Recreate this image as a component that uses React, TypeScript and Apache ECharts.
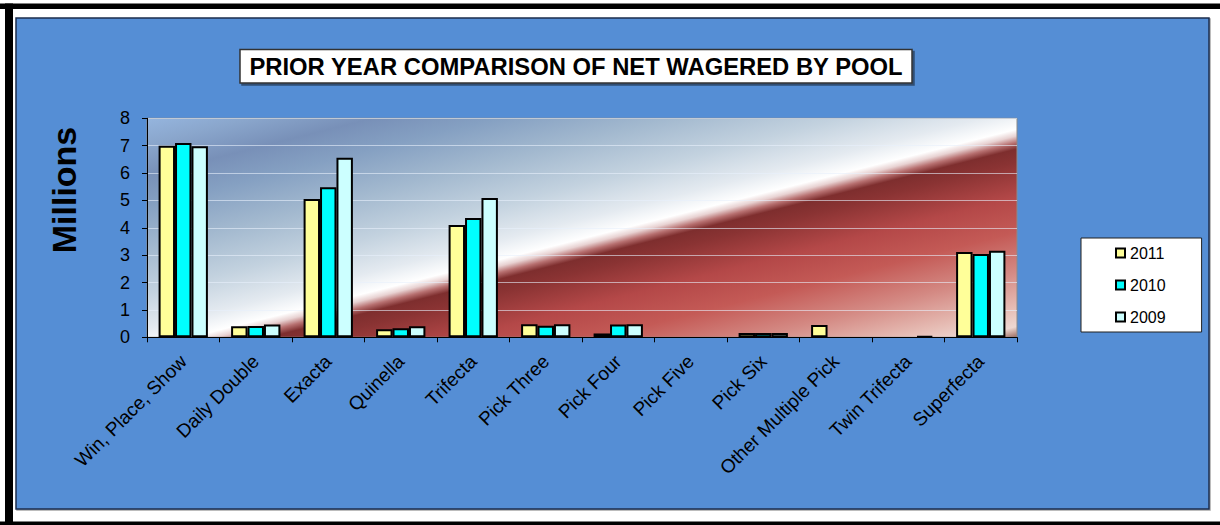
import React, { useEffect, useRef } from "react";
import * as echarts from "echarts";

const categories = [
  "Win, Place, Show",
  "Daily Double",
  "Exacta",
  "Quinella",
  "Trifecta",
  "Pick Three",
  "Pick Four",
  "Pick Five",
  "Pick Six",
  "Other Multiple Pick",
  "Twin Trifecta",
  "Superfecta",
];

const seriesNames = ["2011", "2010", "2009"];
const values2011 = [7.0, 0.4, 5.05, 0.29, 4.1, 0.48, 0.14, null, 0.16, 0.45, null, 3.12];
const values2010 = [7.1, 0.41, 5.48, 0.33, 4.36, 0.42, 0.47, null, 0.16, null, null, 3.04];
const values2009 = [6.98, 0.47, 6.56, 0.4, 5.09, 0.48, 0.48, null, 0.16, null, 0.04, 3.16];
const seriesColors = ["#FFFF99", "#00FFFF", "#CCFFFF"];

const yMin = 0;
const yMax = 8;
const yInterval = 1;

const titleText = "PRIOR YEAR COMPARISON OF NET WAGERED BY POOL";
const yAxisTitle = "Millions";

const FONT = "'Liberation Sans', Arial, sans-serif";

export default function App() {
  const ref = useRef<HTMLDivElement>(null);

  useEffect(() => {
    if (!ref.current) return;
    const chart = echarts.init(ref.current, null, { renderer: "svg" });

    const plotBg = new echarts.graphic.LinearGradient(0, 0, 1, 1, [
      { offset: 0, color: "#95b5de" },
      { offset: 0.06, color: "#8aa6cc" },
      { offset: 0.13, color: "#7890b8" },
      { offset: 0.2, color: "#85a0c2" },
      { offset: 0.3, color: "#a3b9cf" },
      { offset: 0.4, color: "#c3d2df" },
      { offset: 0.48, color: "#e4eaf0" },
      { offset: 0.525, color: "#ffffff" },
      { offset: 0.54, color: "#e8d2d2" },
      { offset: 0.555, color: "#b77070" },
      { offset: 0.57, color: "#7e2e2e" },
      { offset: 0.6, color: "#8a3333" },
      { offset: 0.68, color: "#b44848" },
      { offset: 0.76, color: "#c45a56" },
      { offset: 0.85, color: "#d48a84" },
      { offset: 0.93, color: "#e6bcb4" },
      { offset: 0.975, color: "#eed8d2" },
      { offset: 1, color: "#9a6a60" },
    ]);

    const data = [values2011, values2010, values2009];

    chart.setOption({
      animation: false,
      backgroundColor: "#ffffff",
      textStyle: { fontFamily: FONT },
      grid: {
        left: 147,
        top: 118.3,
        width: 870,
        height: 219,
        show: true,
        backgroundColor: plotBg,
        borderColor: "#8a8a8a",
        borderWidth: 1,
        containLabel: false,
      },
      legend: {
        orient: "vertical",
        left: 1081,
        top: 238,
        icon: "rect",
        itemWidth: 9,
        itemHeight: 9,
        itemGap: 16,
        itemTextGap: 4,
        padding: [7, 36, 7, 34],
        backgroundColor: "#ffffff",
        borderColor: "#202020",
        borderWidth: 1,
        textStyle: { fontSize: 16, color: "#000", fontFamily: FONT },
        data: seriesNames,
      },
      xAxis: {
        type: "category",
        data: categories,
        axisLine: { lineStyle: { color: "#000", width: 1 } },
        axisTick: { show: true, length: 5, lineStyle: { color: "#000" } },
        axisLabel: {
          rotate: 45,
          interval: 0,
          margin: 21,
          fontSize: 19,
          color: "#000",
          fontFamily: FONT,
        },
        splitLine: { show: false },
      },
      yAxis: {
        type: "value",
        min: yMin,
        max: yMax,
        interval: yInterval,
        axisLine: { show: true, lineStyle: { color: "#000", width: 1 } },
        axisTick: { show: true, length: 5, lineStyle: { color: "#000" } },
        axisLabel: { fontSize: 18, color: "#000", margin: 17, fontFamily: FONT },
        splitLine: { show: true, lineStyle: { color: "rgba(232,240,252,0.6)", width: 1 } },
      },
      series: seriesNames.map((name, i) => ({
        name,
        type: "bar",
        data: data[i],
        barGap: "0%",
        barCategoryGap: "32%",
        itemStyle: { color: seriesColors[i], borderColor: "#000", borderWidth: 2 },
      })),
      graphic: [
        // outer black frame pieces
        { type: "rect", z: -100, shape: { x: 0, y: 3.5, width: 1220, height: 5.5 }, style: { fill: "#000" }, silent: true },
        { type: "rect", z: -100, shape: { x: 5, y: 3.5, width: 8, height: 522 }, style: { fill: "#000" }, silent: true },
        { type: "rect", z: -100, shape: { x: 0, y: 521.5, width: 1220, height: 4 }, style: { fill: "#000" }, silent: true },
        // blue chart area panel
        {
          type: "rect",
          z: -90,
          shape: { x: 16, y: 18, width: 1193, height: 491 },
          style: {
            fill: "#558ED5",
            stroke: "#1c2c4e",
            lineWidth: 1.5,
            shadowColor: "rgba(0,0,0,0.35)",
            shadowOffsetX: 1,
            shadowOffsetY: 1,
            shadowBlur: 0,
          },
          silent: true,
        },
        // title box
        {
          type: "rect",
          z: 10,
          shape: { x: 240, y: 49.5, width: 672, height: 33.5 },
          style: {
            fill: "#ffffff",
            stroke: "#333333",
            lineWidth: 1.5,
            shadowColor: "rgba(0,0,0,0.45)",
            shadowOffsetX: 2,
            shadowOffsetY: 2,
            shadowBlur: 1,
          },
          silent: true,
        },
        {
          type: "text",
          z: 11,
          x: 576,
          y: 66.5,
          style: {
            text: titleText,
            fontSize: 23.8,
            fontWeight: "bold",
            fontFamily: FONT,
            fill: "#000",
            align: "center",
            verticalAlign: "middle",
          },
          silent: true,
        },
        {
          type: "text",
          z: 11,
          x: 63.5,
          y: 190,
          rotation: Math.PI / 2,
          style: {
            text: yAxisTitle,
            fontSize: 34,
            fontWeight: "bold",
            fontFamily: FONT,
            fill: "#000",
            align: "center",
            verticalAlign: "middle",
          },
          silent: true,
        },
      ],
    });

    return () => chart.dispose();
  }, []);

  return (
    <div
      ref={ref}
      style={{ position: "fixed", left: 0, top: 0, width: 1220, height: 525 }}
    />
  );
}
